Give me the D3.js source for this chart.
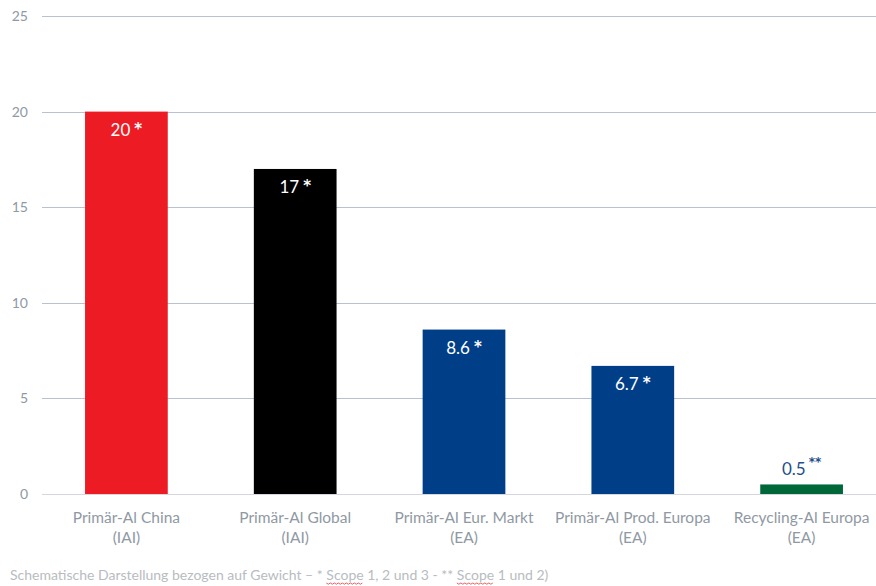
<!DOCTYPE html>
<html>
<head>
<meta charset="utf-8">
<script src="https://cdn.jsdelivr.net/npm/d3@7"></script>
<style>
  body { margin: 0; background: #fff; }
  svg { font-family: Lato, "Open Sans", sans-serif; }
</style>
</head>
<body>
<div id="viz"></div>
<script>
const categories = [
  ['Primär-Al China', '(IAI)'],
  ['Primär-Al Global', '(IAI)'],
  ['Primär-Al Eur. Markt', '(EA)'],
  ['Primär-Al Prod. Europa', '(EA)'],
  ['Recycling-Al Europa', '(EA)']
];
const values = [20, 17, 8.6, 6.7, 0.5];
const valueLabels = ['20', '17', '8.6', '6.7', '0.5'];
const scopeMarks = ['*', '*', '*', '*', '**'];
const barColors = ['#ed1c24', '#000000', '#003f87', '#003f87', '#006838'];
const yTicks = [0, 5, 10, 15, 20, 25];

const WIDTH = 876;
const HEIGHT = 586;

const svg = d3.select('#viz').append('svg')
  .attr('width', WIDTH)
  .attr('height', HEIGHT);

const x = d3.scaleBand()
  .domain(d3.range(categories.length))
  .range([42, 886])
  .paddingInner(0.51)
  .paddingOuter(0.255);

const y = d3.scaleLinear()
  .domain([0, 25])
  .range([494, 16]);

// gridlines
svg.append('g')
  .selectAll('line')
  .data(yTicks)
  .join('line')
    .attr('x1', 42)
    .attr('x2', WIDTH)
    .attr('y1', d => Math.round(y(d)) + 0.5)
    .attr('y2', d => Math.round(y(d)) + 0.5)
    .attr('stroke', d => d === 0 ? '#d4d8dc' : '#b8c2cc')
    .attr('stroke-width', 1);

// y tick labels
svg.append('g')
  .selectAll('text')
  .data(yTicks)
  .join('text')
    .attr('x', 28)
    .attr('y', d => y(d))
    .attr('dy', '0.35em')
    .attr('text-anchor', 'end')
    .attr('font-size', 14)
    .attr('fill', '#8f99a3')
    .text(d => d);

// bars
svg.append('g')
  .selectAll('rect')
  .data(values)
  .join('rect')
    .attr('x', (d, i) => x(i))
    .attr('y', d => y(d))
    .attr('width', x.bandwidth())
    .attr('height', d => y(0) - y(d))
    .attr('fill', (d, i) => barColors[i]);

// value labels
const vl = svg.append('g')
  .selectAll('text')
  .data(values)
  .join('text')
    .attr('x', (d, i) => x(i) + x.bandwidth() / 2)
    .attr('y', d => d < 2 ? y(d) - 9 : y(d) + 24)
    .attr('text-anchor', 'middle')
    .attr('font-size', 17)
    .attr('fill', d => d < 2 ? '#1f4e8c' : '#ffffff');
vl.append('tspan').text((d, i) => valueLabels[i]);
vl.append('tspan')
  .attr('dx', (d, i) => scopeMarks[i].length > 1 ? 3 : 4)
  .attr('dy', (d, i) => scopeMarks[i].length > 1 ? -9 : -2)
  .attr('font-family', '"DejaVu Sans", sans-serif')
  .attr('font-size', (d, i) => scopeMarks[i].length > 1 ? 12 : 15)
  .attr('font-weight', 'bold')
  .text((d, i) => scopeMarks[i]);

// category labels
const cl = svg.append('g')
  .selectAll('text')
  .data(categories)
  .join('text')
    .attr('text-anchor', 'middle')
    .attr('font-size', 15.5)
    .attr('fill', '#8f99a3');
cl.append('tspan')
  .attr('x', (d, i) => x(i) + x.bandwidth() / 2)
  .attr('y', 523)
  .text(d => d[0]);
cl.append('tspan')
  .attr('x', (d, i) => x(i) + x.bandwidth() / 2)
  .attr('y', 543)
  .text(d => d[1]);

// footnote
const note = svg.append('text')
  .attr('x', 10)
  .attr('y', 580)
  .attr('font-size', 14)
  .attr('fill', '#b8bcc0');
note.append('tspan').text('Schematische Darstellung bezogen auf Gewicht – * ');
note.append('tspan').attr('class', 'sp').text('Scope');
note.append('tspan').text(' 1, 2 und 3 - ** ');
note.append('tspan').attr('class', 'sp').text('Scope');
note.append('tspan').text(' 1 und 2)');

// spell-check squiggles under "Scope"
note.selectAll('tspan.sp').each(function () {
  const n = this.getNumberOfChars();
  const s = this.getStartPositionOfChar(0);
  const e = this.getEndPositionOfChar(n - 1);
  const pts = [];
  for (let px = s.x; px <= e.x; px += 2) {
    pts.push([px, 583 + ((Math.round((px - s.x) / 2) % 2) ? 1.2 : 0)]);
  }
  svg.append('path')
    .attr('d', d3.line()(pts))
    .attr('fill', 'none')
    .attr('stroke', '#e23b3b')
    .attr('stroke-width', 0.8);
});
</script>
</body>
</html>
